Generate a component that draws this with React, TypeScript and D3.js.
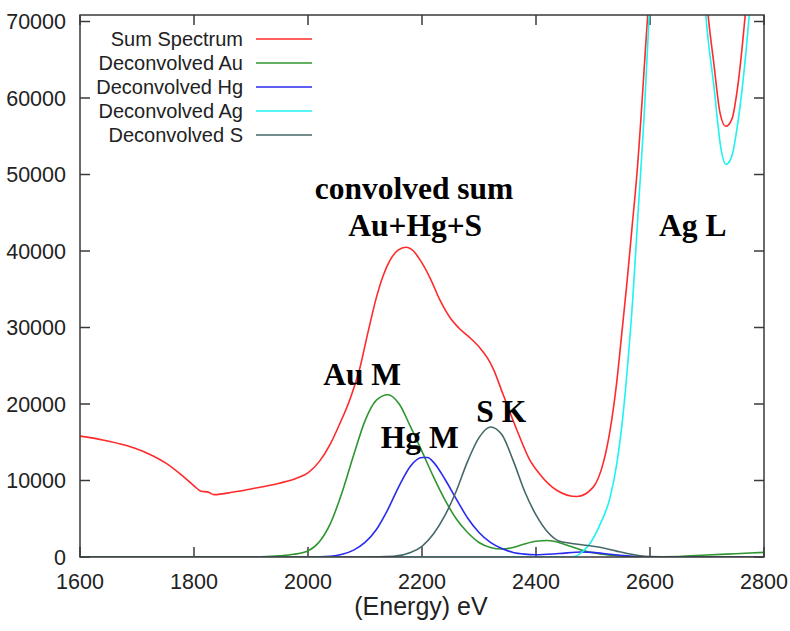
import React from "react";
import * as d3 from "d3";

// values: [energy eV, counts]
const sumSpectrum: [number, number][] = [
  [1600, 15800], [1640, 15300], [1680, 14600], [1720, 13500], [1750, 12300],
  [1780, 10600], [1800, 9300], [1812, 8600], [1825, 8480], [1835, 8150],
  [1870, 8500], [1900, 8900], [1950, 9650], [1980, 10300], [2000, 11000],
  [2020, 12500], [2040, 14900], [2055, 17300], [2074, 20700], [2091, 24700],
  [2105, 29300], [2121, 34200], [2132, 36800], [2144, 38800], [2158, 40100],
  [2172, 40500], [2185, 40000], [2196, 38900], [2214, 36500], [2232, 33500],
  [2249, 31300], [2265, 29900], [2285, 28600], [2302, 27300], [2315, 26000],
  [2325, 24600], [2342, 21300], [2367, 16500], [2389, 12700], [2407, 10800],
  [2437, 8700], [2472, 7900], [2500, 9100], [2518, 12300], [2530, 16600],
  [2542, 23100], [2551, 29600], [2560, 36200], [2568, 42700], [2577, 50000],
  [2596, 70800], [2620, 95000], [2650, 112000], [2680, 95000], [2702, 70800],
  [2712, 64500], [2723, 58000], [2733, 56300], [2744, 57300], [2753, 61000],
  [2767, 70800], [2785, 88000], [2800, 100000],
];

const auSpectrum: [number, number][] = [
  [1600, 0], [1900, 0], [1950, 150], [1975, 350], [2000, 800], [2020, 2000],
  [2040, 4500], [2060, 8500], [2080, 13300], [2100, 17800], [2120, 20500],
  [2140, 21200], [2160, 20000], [2180, 17000], [2200, 13800], [2220, 10500],
  [2240, 7500], [2260, 5000], [2280, 3200], [2300, 1900], [2320, 1250],
  [2340, 1050], [2360, 1250], [2380, 1700], [2400, 2050], [2420, 2150],
  [2440, 1900], [2460, 1400], [2480, 900], [2500, 550], [2530, 250],
  [2560, 100], [2600, 20], [2650, 60], [2700, 260], [2750, 430], [2800, 600],
];

const hgSpectrum: [number, number][] = [
  [1600, 0], [2000, 0], [2040, 100], [2060, 350], [2080, 900], [2100, 1900],
  [2120, 3600], [2140, 6200], [2160, 9300], [2180, 11900], [2200, 13000],
  [2210, 13000], [2220, 12400], [2240, 10200], [2260, 7600], [2280, 5100],
  [2300, 3200], [2320, 1900], [2340, 1100], [2360, 600], [2380, 380],
  [2400, 300], [2440, 450], [2480, 650], [2500, 600], [2530, 350],
  [2560, 150], [2600, 0], [2800, 0],
];

const agSpectrum: [number, number][] = [
  [1600, 0], [2440, 0], [2460, 0], [2470, 100], [2483, 800], [2495, 1800],
  [2512, 4200], [2530, 7800], [2542, 12300], [2553, 18800], [2561, 25300],
  [2570, 34000], [2579, 44900], [2590, 58000], [2600, 73000], [2620, 95000],
  [2650, 110000], [2680, 95000], [2698, 70800], [2712, 61600], [2725, 53150],
  [2733, 51300], [2744, 52500], [2753, 56200], [2774, 70800], [2790, 88000],
  [2800, 100000],
];

const sSpectrum: [number, number][] = [
  [1600, 0], [2100, 0], [2150, 100], [2180, 600], [2200, 1400], [2220, 3000],
  [2240, 5400], [2260, 8600], [2280, 12500], [2300, 15600], [2320, 17000],
  [2340, 16000], [2360, 12600], [2380, 8600], [2400, 5500], [2420, 3300],
  [2440, 2100], [2460, 1800], [2480, 1600], [2500, 1400], [2520, 1150],
  [2540, 800], [2560, 450], [2580, 200], [2600, 60], [2640, 0], [2800, 0],
];

const seriesNames = [
  "Sum Spectrum",
  "Deconvolved Au",
  "Deconvolved Hg",
  "Deconvolved Ag",
  "Deconvolved S",
];
const seriesColors = ["#ff2a2a", "#2e962e", "#2a2af0", "#1ef2f2", "#466868"];
const seriesData = [sumSpectrum, auSpectrum, hgSpectrum, agSpectrum, sSpectrum];

const xTicks = [1600, 1800, 2000, 2200, 2400, 2600, 2800];
const yTicks = [0, 10000, 20000, 30000, 40000, 50000, 60000, 70000];

// label, energy, counts (baseline position in data units)
const annotations: [string, number, number][] = [
  ["convolved sum", 2186, 46800],
  ["Au+Hg+S", 2188, 41960],
  ["Ag L", 2675, 41960],
  ["Au M", 2095, 22480],
  ["Hg M", 2196, 14250],
  ["S K", 2339, 17650],
];

const W = 790;
const H = 631;
const left = 80;
const right = 764;
const top = 15;
const bottom = 557;

export default function App() {
  const x = d3.scaleLinear().domain([1600, 2800]).range([left, right]);
  const y = d3.scaleLinear().domain([0, 70850]).range([bottom, top]);

  const line = d3
    .line<[number, number]>()
    .x((d) => x(d[0]))
    .y((d) => y(d[1]))
    .curve(d3.curveMonotoneX);

  const axisColor = "#3a3a3a";
  const tickLen = 10;

  return (
    <svg
      width={W}
      height={H}
      style={{ position: "absolute", left: 0, top: 0, background: "#fff" }}
    >
      <defs>
        <clipPath id="plot-clip">
          <rect x={left} y={top} width={right - left} height={bottom - top} />
        </clipPath>
      </defs>

      {/* ticks, all four sides */}
      <g stroke={axisColor} strokeWidth={1.5}>
        {xTicks.map((t) => (
          <g key={"xt" + t}>
            <line x1={x(t)} x2={x(t)} y1={bottom} y2={bottom - tickLen} />
            <line x1={x(t)} x2={x(t)} y1={top} y2={top + tickLen} />
          </g>
        ))}
        {yTicks.map((t) => (
          <g key={"yt" + t}>
            <line x1={left} x2={left + tickLen} y1={y(t)} y2={y(t)} />
            <line x1={right} x2={right - tickLen} y1={y(t)} y2={y(t)} />
          </g>
        ))}
      </g>

      {/* tick labels */}
      <g fontFamily="'Liberation Sans', Arial, sans-serif" fontSize={21.5} fill="#222">
        {xTicks.map((t) => (
          <text key={"xl" + t} x={x(t)} y={589} textAnchor="middle">
            {t}
          </text>
        ))}
        {yTicks.map((t) => (
          <text key={"yl" + t} x={66} y={y(t) + 7.5} textAnchor="end">
            {t}
          </text>
        ))}
        <text x={421} y={615} textAnchor="middle" fontSize={25}>
          (Energy) eV
        </text>
      </g>

      {/* curves */}
      <g clipPath="url(#plot-clip)" fill="none" strokeWidth={1.6}>
        {seriesData.map((d, i) => (
          <path key={seriesNames[i]} d={line(d) ?? ""} stroke={seriesColors[i]} />
        ))}
      </g>

      {/* legend */}
      <g fontFamily="'Liberation Sans', Arial, sans-serif" fontSize={20} fill="#222">
        {seriesNames.map((name, i) => (
          <g key={"lg" + name}>
            <text x={243} y={39 + i * 24 + 7} textAnchor="end">
              {name}
            </text>
            <line
              x1={256}
              x2={312}
              y1={39 + i * 24}
              y2={39 + i * 24}
              stroke={seriesColors[i]}
              strokeWidth={1.6}
            />
          </g>
        ))}
      </g>

      {/* annotations */}
      <g
        fontFamily="'Liberation Serif', 'Times New Roman', serif"
        fontWeight="bold"
        fontSize={31.5}
        fill="#000"
        textAnchor="middle"
      >
        {annotations.map(([label, e, v]) => (
          <text key={label} x={x(e)} y={y(v)}>
            {label}
          </text>
        ))}
      </g>

      {/* frame */}
      <rect
        x={left}
        y={top}
        width={right - left}
        height={bottom - top}
        fill="none"
        stroke={axisColor}
        strokeWidth={1.5}
      />
    </svg>
  );
}
